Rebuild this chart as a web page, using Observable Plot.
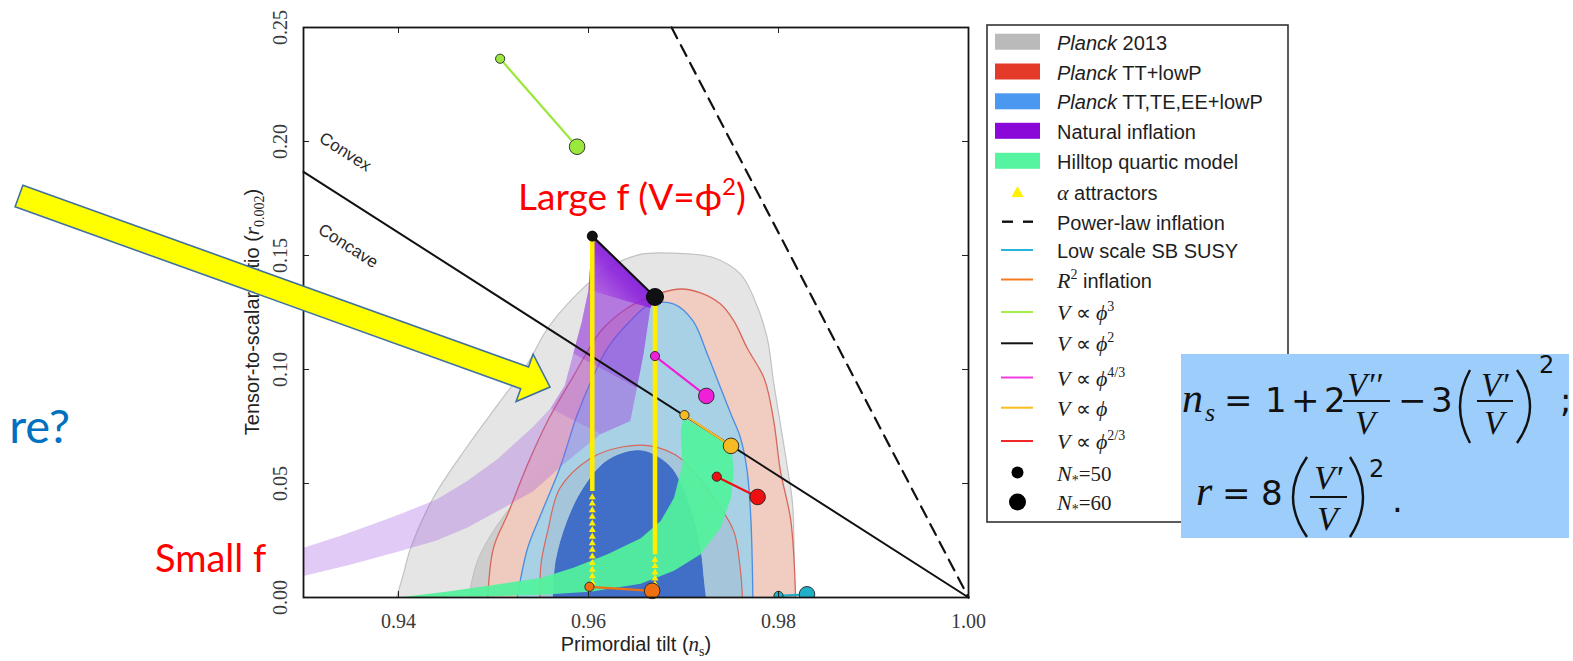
<!DOCTYPE html>
<html><head><meta charset="utf-8">
<script src="https://cdn.jsdelivr.net/npm/d3@7"></script>
<script src="https://cdn.jsdelivr.net/npm/@observablehq/plot@0.6"></script>
<style>
html,body{margin:0;padding:0;background:#fff;}
#wrap{position:relative;width:1573px;height:661px;overflow:hidden;background:#fff;}
#plot{position:absolute;left:0;top:0;}
#overlay{position:absolute;left:0;top:0;}
</style></head><body>
<div id="wrap"><div id="plot"></div><svg id="overlay" width="1573" height="661">
<defs><linearGradient id="natGrad" x1="1" y1="0" x2="0" y2="1">
<stop offset="0" stop-color="#6a00d4" stop-opacity="0.97"/>
<stop offset="0.55" stop-color="#8a20dc" stop-opacity="0.8"/>
<stop offset="1" stop-color="#c070e4" stop-opacity="0.55"/>
</linearGradient></defs></svg></div>
<script>
// ---------------- DATA ----------------
const xTicks = [0.94, 0.96, 0.98, 1.00];
const yTicks = [0.00, 0.05, 0.10, 0.15, 0.20, 0.25];

// Planck contours: [n_s, r] upper profiles (closed along r = 0)
const planck2013_95 = [[0.9398,0],[0.9405,0.010],[0.9413,0.022],[0.9437,0.044],[0.9472,0.066],[0.9507,0.086],[0.9535,0.102],[0.9557,0.118],[0.9584,0.1314],[0.9620,0.1445],[0.9655,0.1505],[0.9690,0.1510],[0.9732,0.1490],[0.9760,0.1418],[0.9774,0.1314],[0.9788,0.1140],[0.9795,0.0940],[0.9809,0.0580],[0.9815,0.0400],[0.9816,0]];
const planck2013_68 = [[0.9474,0],[0.9483,0.016],[0.9507,0.0336],[0.9542,0.051],[0.9578,0.0656],[0.9613,0.073],[0.9650,0.075],[0.9690,0.071],[0.9720,0.062],[0.9740,0.048],[0.9755,0.030],[0.9760,0.015],[0.9762,0]];
const planckTT_95 = [[0.9494,0],[0.9500,0.0218],[0.9515,0.0366],[0.9536,0.0585],[0.9557,0.0774],[0.9584,0.0970],[0.9613,0.1169],[0.9641,0.1270],[0.9665,0.1320],[0.9697,0.1353],[0.9718,0.1336],[0.9739,0.1287],[0.9753,0.1213],[0.9767,0.1094],[0.9785,0.0960],[0.9795,0.0774],[0.9802,0.0555],[0.9813,0.0336],[0.9818,0]];
const planckTT_68 = [[0.9549,0],[0.9550,0.0147],[0.9557,0.0290],[0.9570,0.0480],[0.9602,0.0610],[0.9635,0.0660],[0.9665,0.0665],[0.9697,0.0610],[0.9736,0.0410],[0.9753,0.0290],[0.9760,0.0116],[0.9762,0]];
const planckTTTEEE_95 = [[0.9525,0],[0.9536,0.0218],[0.9550,0.0366],[0.9570,0.0570],[0.9588,0.0800],[0.9605,0.0970],[0.9620,0.1094],[0.9647,0.1226],[0.9665,0.1287],[0.9690,0.1287],[0.9710,0.1213],[0.9725,0.1068],[0.9739,0.0920],[0.9750,0.0804],[0.9760,0.0700],[0.9767,0.0555],[0.9771,0.0336],[0.9773,0]];
const planckTTTEEE_68 = [[0.9563,0],[0.9566,0.016],[0.9578,0.0335],[0.9595,0.048],[0.9620,0.060],[0.9655,0.0643],[0.9683,0.0585],[0.9697,0.0498],[0.9710,0.035],[0.9718,0.019],[0.9721,0.007],[0.9723,0]];

// Natural inflation band edges (N*=50 and N*=60)
const naturalN50 = [[0.9604,0.1585],[0.9600,0.135],[0.9593,0.121],[0.9584,0.107],[0.9575,0.093],[0.9560,0.083],[0.9542,0.075],[0.9505,0.061],[0.9472,0.051],[0.9440,0.043],[0.9402,0.0366],[0.9375,0.0325],[0.9340,0.0272],[0.9300,0.0218]];
const naturalN60 = [[0.9670,0.1318],[0.9665,0.127],[0.9658,0.107],[0.9651,0.092],[0.9644,0.0774],[0.9613,0.0717],[0.9578,0.060],[0.9542,0.0467],[0.9505,0.038],[0.9472,0.0306],[0.9440,0.025],[0.9402,0.0204],[0.9350,0.0145],[0.9300,0.0094]];

// Hilltop quartic band edges
const hilltopN60 = [[0.9400,0],[0.9500,0.0005],[0.9550,0.0012],[0.9602,0.0025],[0.9655,0.0060],[0.9690,0.0117],[0.9718,0.0190],[0.9739,0.0306],[0.9750,0.0437],[0.9753,0.0555],[0.9750,0.0665],[0.9700,0.0790]];
const hilltopN50 = [[0.9697,0.0730],[0.9699,0.0585],[0.9690,0.0437],[0.9676,0.0335],[0.9655,0.0260],[0.9620,0.0190],[0.9584,0.0130],[0.9550,0.0086],[0.9500,0.0055],[0.9450,0.0025],[0.9400,0]];

// Alpha attractors
const alphaSolidN50 = [[0.9604,0.1585],[0.9604,0.0467]];
const alphaSolidN60 = [[0.9670,0.1318],[0.9670,0.0190]];
const alphaTriN50 = [0.0440,0.0412,0.0383,0.0354,0.0325,0.0296,0.0267,0.0238,0.0209,0.0180,0.0151,0.0122,0.0093,0.0065];
const alphaTriN60 = [0.0165,0.0138,0.0110,0.0083,0.0058];

// Single-field models: N*=50 and N*=60 predictions
const modelNames = ["V ∝ φ³","V ∝ φ²","V ∝ φ^4/3","V ∝ φ","V ∝ φ^2/3","R² inflation","Low scale SB SUSY"];
const nsN50 = [0.9507,0.9604,0.9670,0.9701,0.9735,0.9601,0.9800];
const rN50  = [0.2363,0.1585,0.1059,0.0800,0.0530,0.0047,0.0007];
const nsN60 = [0.9588,0.9670,0.9724,0.9750,0.9778,0.9667,0.9830];
const rN60  = [0.1977,0.1318,0.0884,0.0665,0.0441,0.0029,0.0014];

// Reference lines
const convexBoundary = [[0.93,0.1867],[1.00,0]];
const powerLaw = [[0.96875,0.25],[1.00,0]];
const regionLabels = ["Convex","Concave"];
const regionLabelNs = [0.9344,0.9347];
const regionLabelR = [0.1954,0.1542];

// Legend entries
const legendLabels = [
  [["Planck","i"],[" 2013",""]],
  [["Planck","i"],[" TT+lowP",""]],
  [["Planck","i"],[" TT,TE,EE+lowP",""]],
  [["Natural inflation",""]],
  [["Hilltop quartic model",""]],
  [["α","mi"],[" attractors",""]],
  [["Power-law inflation",""]],
  [["Low scale SB SUSY",""]],
  [["R","mi"],["2","sup"],[" inflation",""]],
  [["V","mi"],[" ∝ ","m"],["ϕ","mi"],["3","sup"]],
  [["V","mi"],[" ∝ ","m"],["ϕ","mi"],["2","sup"]],
  [["V","mi"],[" ∝ ","m"],["ϕ","mi"],["4/3","sup"]],
  [["V","mi"],[" ∝ ","m"],["ϕ","mi"]],
  [["V","mi"],[" ∝ ","m"],["ϕ","mi"],["2/3","sup"]],
  [["N","mi"],["*","sub"],["=50","m"]],
  [["N","mi"],["*","sub"],["=60","m"]]
];

// ---------------- STYLES ----------------
const modelColors = ["#9be83c","#111111","#f020d8","#f6bb22","#ee1010","#f07010","#1fb0c8"];
const legendKinds = ["rect","rect","rect","rect","rect","tri","dash","line","line","line","line","line","line","line","dot50","dot60"];
const legendColors = ["#bababa","#e33a2a","#4a98ef","#8a08d8","#56f4a0","#fff200","#111","#28b4d8","#f47c20","#a4ee48","#111","#f03ce0","#fbbd1e","#f02828","#000","#000"];

// ---------------- PLOT ----------------
const P = (pts, opts) => Plot.line(pts, {x: d => d[0], y: d => d[1], ...opts});
const marks = [];
marks.push(P(planck2013_95, {fill:"#e5e5e5", stroke:"#c2c2c2", strokeWidth:1.2, curve:"catmull-rom"}));
marks.push(P(planck2013_68, {fill:"#cdcdcd", stroke:"#c0c0c0", strokeWidth:1, curve:"catmull-rom"}));
marks.push(P(planckTT_95, {fill:"#f2cabd", fillOpacity:0.92, stroke:"#d8665a", strokeWidth:1.3, curve:"catmull-rom"}));
marks.push(P(planckTTTEEE_95, {fill:"#a9d1e6", stroke:"#4a8de2", strokeWidth:1.3, curve:"catmull-rom"}));
marks.push(P(planckTT_68, {fill:"#9aa8b8", fillOpacity:0.25, stroke:"#d8665a", strokeWidth:1.2, curve:"catmull-rom"}));
marks.push(P(planckTTTEEE_68, {fill:"#416fc7", stroke:"#3d6bc4", strokeWidth:1, curve:"catmull-rom"}));

// natural inflation band: nested slices to build the gradient towards V ∝ φ²
const bandPoly = k => naturalN50.slice(0, k + 1).concat(naturalN60.slice(0, k + 1).reverse());
[[13, 0.30, "#a050e0"], [5, 0.22, "#9a40dc"], [3, 0.3, "#8c28d8"]].forEach(([k, o, c]) =>
  marks.push(P(bandPoly(k), {fill: c, fillOpacity: o, stroke: "none", curve: "linear-closed"})));
marks.push(P(bandPoly(1), {fill: "url(#natGrad)", stroke: "none", curve: "linear-closed"}));

// hilltop band
marks.push(P(hilltopN60.concat(hilltopN50), {fill:"#52f29c", fillOpacity:0.93, stroke:"none", curve:"linear-closed"}));

// reference lines
marks.push(P(convexBoundary, {stroke:"#111", strokeWidth:2}));
marks.push(P(powerLaw, {stroke:"#111", strokeWidth:2.2, strokeDasharray:"12,8"}));
marks.push(Plot.text(regionLabels, {x: (d, i) => regionLabelNs[i], y: (d, i) => regionLabelR[i], text: d => d, rotate: 32.6, fontSize: 17, fontFamily: "Liberation Sans", fill: "#2a2a2a"}));

// alpha attractors
marks.push(P(alphaSolidN50, {stroke:"#ffee00", strokeWidth:4.5, strokeLinecap:"butt"}));
marks.push(P(alphaSolidN60, {stroke:"#ffee00", strokeWidth:4.5, strokeLinecap:"butt"}));
marks.push(Plot.dot(alphaTriN50, {x: () => alphaSolidN50[0][0], y: d => d, symbol: "triangle", r: 2.6, fill: "#ffee00", stroke: "none"}));
marks.push(Plot.dot(alphaTriN60, {x: () => alphaSolidN60[0][0], y: d => d, symbol: "triangle", r: 2.6, fill: "#ffee00", stroke: "none"}));

// model segments and points
modelNames.forEach((name, i) => {
  const clip = i === 6;
  marks.push(P([[nsN50[i], rN50[i]], [nsN60[i], rN60[i]]], {stroke: modelColors[i], strokeWidth: 2.2, clip}));
});
modelNames.forEach((name, i) => {
  const clip = i === 6;
  const stroke = i === 1 ? "#000" : "#222";
  marks.push(Plot.dot([i], {x: j => nsN50[j], y: j => rN50[j], r: i === 1 ? 5 : 4.6, fill: modelColors[i], stroke, strokeWidth: 0.9, clip}));
  marks.push(Plot.dot([i], {x: j => nsN60[j], y: j => rN60[j], r: i === 1 ? 8.5 : 7.8, fill: modelColors[i], stroke, strokeWidth: 0.9, clip}));
});

// ticks (inward) and tick labels
const innerW = 665, innerH = 570, tk = 6;
marks.push(Plot.ruleX(xTicks, {x: d => d, insetTop: innerH - tk, stroke: "#222", strokeWidth: 1}));
marks.push(Plot.ruleX(xTicks, {x: d => d, insetBottom: innerH - tk, stroke: "#222", strokeWidth: 1}));
marks.push(Plot.ruleY(yTicks, {y: d => d, insetRight: innerW - tk, stroke: "#222", strokeWidth: 1}));
marks.push(Plot.ruleY(yTicks, {y: d => d, insetLeft: innerW - tk, stroke: "#222", strokeWidth: 1}));
marks.push(Plot.text(xTicks, {x: d => d, frameAnchor: "bottom", dy: 24, lineAnchor: "middle", textAnchor: "middle", text: d => d.toFixed(2), fontFamily: "Liberation Serif", fontSize: 20, fill: "#3a3a3a"}));
marks.push(Plot.text(yTicks, {y: d => d, frameAnchor: "left", dx: -23, rotate: -90, textAnchor: "middle", lineAnchor: "middle", text: d => d.toFixed(2), fontFamily: "Liberation Serif", fontSize: 20, fill: "#3a3a3a"}));
marks.push(Plot.frame({stroke: "#151515", strokeWidth: 1.8}));

const plot = Plot.plot({
  width: 1000, height: 661,
  marginLeft: 303, marginRight: 32, marginTop: 27, marginBottom: 64,
  x: {domain: [0.93, 1.0], axis: null},
  y: {domain: [0, 0.25], axis: null},
  style: {background: "transparent", overflow: "visible"},
  marks
});
document.getElementById("plot").appendChild(plot);

// ---------------- OVERLAY: labels, legend, formula, slide annotations ----------------
const ov = d3.select("#overlay");
function txt(x, y, s, o = {}) {
  const t = ov.append("text").attr("x", x).attr("y", y).text(s)
    .attr("font-family", o.ff || "DejaVu Sans").attr("font-size", o.fs || 34).attr("fill", o.fill || "#111");
  if (o.it) t.attr("font-style", "italic");
  if (o.anchor) t.attr("text-anchor", o.anchor);
  return t;
}

// axis titles
const xl = ov.append("text").attr("x", 636).attr("y", 651).attr("text-anchor", "middle")
  .attr("font-family", "Liberation Sans").attr("font-size", 20).attr("fill", "#222");
xl.append("tspan").text("Primordial tilt (");
xl.append("tspan").text("n").attr("font-family", "Liberation Serif").attr("font-style", "italic").attr("font-size", 21);
xl.append("tspan").text("s").attr("font-family", "Liberation Serif").attr("font-size", 14).attr("dy", 5);
xl.append("tspan").text(")").attr("dy", -5);

const yl = ov.append("g").attr("transform", "translate(252,312) rotate(-90)")
  .append("text").attr("x", 0).attr("y", 7).attr("text-anchor", "middle")
  .attr("font-family", "Liberation Sans").attr("font-size", 20).attr("fill", "#222");
yl.append("tspan").text("Tensor-to-scalar ratio (");
yl.append("tspan").text("r").attr("font-family", "Liberation Serif").attr("font-style", "italic").attr("font-size", 21);
yl.append("tspan").text("0.002").attr("font-family", "Liberation Serif").attr("font-size", 14).attr("dy", 5);
yl.append("tspan").text(")").attr("dy", -5);

// legend
ov.append("rect").attr("x", 987).attr("y", 25).attr("width", 301).attr("height", 497)
  .attr("fill", "#fff").attr("stroke", "#333").attr("stroke-width", 1.6);
const rowY = [41.7, 71.5, 101.3, 130.8, 160.8, 192, 221.7, 250, 279.5, 312, 343.3, 377.5, 407.7, 441, 472.5, 502];
legendLabels.forEach((parts, i) => {
  const cy = rowY[i], kind = legendKinds[i], col = legendColors[i];
  if (kind === "rect") ov.append("rect").attr("x", 995).attr("y", cy - 8).attr("width", 45).attr("height", 16).attr("fill", col);
  else if (kind === "line") ov.append("line").attr("x1", 1001).attr("x2", 1033).attr("y1", cy).attr("y2", cy).attr("stroke", col).attr("stroke-width", 2);
  else if (kind === "dash") { [[1002, 1013], [1023, 1033]].forEach(([a, b]) => ov.append("line").attr("x1", a).attr("x2", b).attr("y1", cy).attr("y2", cy).attr("stroke", col).attr("stroke-width", 2.4)); }
  else if (kind === "tri") ov.append("path").attr("d", `M1017.5,${cy - 6}L1023.5,${cy + 5}L1011.5,${cy + 5}Z`).attr("fill", col);
  else if (kind === "dot50") ov.append("circle").attr("cx", 1017.5).attr("cy", cy).attr("r", 6).attr("fill", col);
  else if (kind === "dot60") ov.append("circle").attr("cx", 1017.5).attr("cy", cy).attr("r", 8.5).attr("fill", col);
  const t = ov.append("text").attr("x", 1057).attr("y", cy + 8).attr("font-family", "Liberation Sans").attr("font-size", 20).attr("fill", "#1e1e1e");
  let shift = 0;
  parts.forEach(([s, st]) => {
    const sp = t.append("tspan").text(s);
    let target = 0;
    if (st === "i") sp.attr("font-style", "italic");
    if (st === "mi") sp.attr("font-family", "Liberation Serif").attr("font-style", "italic").attr("font-size", 22);
    if (st === "m") sp.attr("font-family", "Liberation Serif").attr("font-size", 21);
    if (st === "sup") { sp.attr("font-family", "Liberation Serif").attr("font-size", 14); target = -9; }
    if (st === "sub") { sp.attr("font-family", "Liberation Serif").attr("font-size", 14); target = 4; }
    if (target !== shift) { sp.attr("dy", target - shift); shift = target; }
  });
});

// formula box
ov.append("rect").attr("x", 1181).attr("y", 354).attr("width", 388).attr("height", 184).attr("fill", "#9ccdfb");
const SER = "Liberation Serif";
const paren = (xl_, xr_, top, bot, left) => {
  const mid = (top + bot) / 2;
  const d = left ? `M${xr_},${top}Q${2 * xl_ - xr_},${mid} ${xr_},${bot}` : `M${xl_},${top}Q${2 * xr_ - xl_},${mid} ${xl_},${bot}`;
  ov.append("path").attr("d", d).attr("fill", "none").attr("stroke", "#111").attr("stroke-width", 2.4);
};
const bar = (a, b, y) => ov.append("line").attr("x1", a).attr("x2", b).attr("y1", y).attr("y2", y).attr("stroke", "#111").attr("stroke-width", 2);
// line 1
txt(1182, 412, "n", {ff: SER, it: true, fs: 42});
txt(1205, 421, "s", {ff: SER, it: true, fs: 26});
txt(1224, 412, "=");
txt(1265, 412, "1");
txt(1291, 412, "+");
txt(1324, 412, "2");
bar(1343, 1390, 401);
txt(1347, 396, "V′′", {ff: SER, it: true, fs: 33});
txt(1355, 434, "V", {ff: SER, it: true, fs: 33});
txt(1398, 412, "−");
txt(1431, 412, "3");
paren(1460, 1470, 370, 443, true);
bar(1477, 1513, 401);
txt(1481, 396, "V′", {ff: SER, it: true, fs: 33});
txt(1484, 434, "V", {ff: SER, it: true, fs: 33});
paren(1517, 1530, 370, 443, false);
txt(1539, 373, "2", {fs: 24});
txt(1560, 412, ";");
// line 2
txt(1196, 505, "r", {ff: SER, it: true, fs: 42});
txt(1222, 505, "=");
txt(1261, 505, "8");
paren(1293, 1307, 457, 537, true);
bar(1310, 1347, 497);
txt(1314, 489, "V′", {ff: SER, it: true, fs: 34});
txt(1317, 530, "V", {ff: SER, it: true, fs: 34});
paren(1350, 1363, 457, 537, false);
txt(1369, 477, "2", {fs: 24});
txt(1392, 512, ".");

// slide arrow
ov.append("polygon")
  .attr("points", "22.9,185.2 528.5,367.1 533.1,354.2 550,387 516.1,401.6 520.7,388.7 15.1,206.8")
  .attr("fill", "#ffff00").attr("stroke", "#41719c").attr("stroke-width", 1.6).attr("stroke-linejoin", "miter");

// slide texts
const lf = txt(518, 210, "Large f (V=", {ff: "Lato", fs: 37, fill: "#ff0000"});
lf.append("tspan").text("ϕ");
lf.append("tspan").text("2").attr("font-size", 24).attr("dy", -15);
lf.append("tspan").text(")").attr("dy", 15);
txt(155, 572, "Small f", {ff: "Lato", fs: 38, fill: "#ff0000"});
txt(70, 443, "re?", {ff: "Lato", fs: 47, fill: "#0070c0", anchor: "end"});
</script>
</body></html>
